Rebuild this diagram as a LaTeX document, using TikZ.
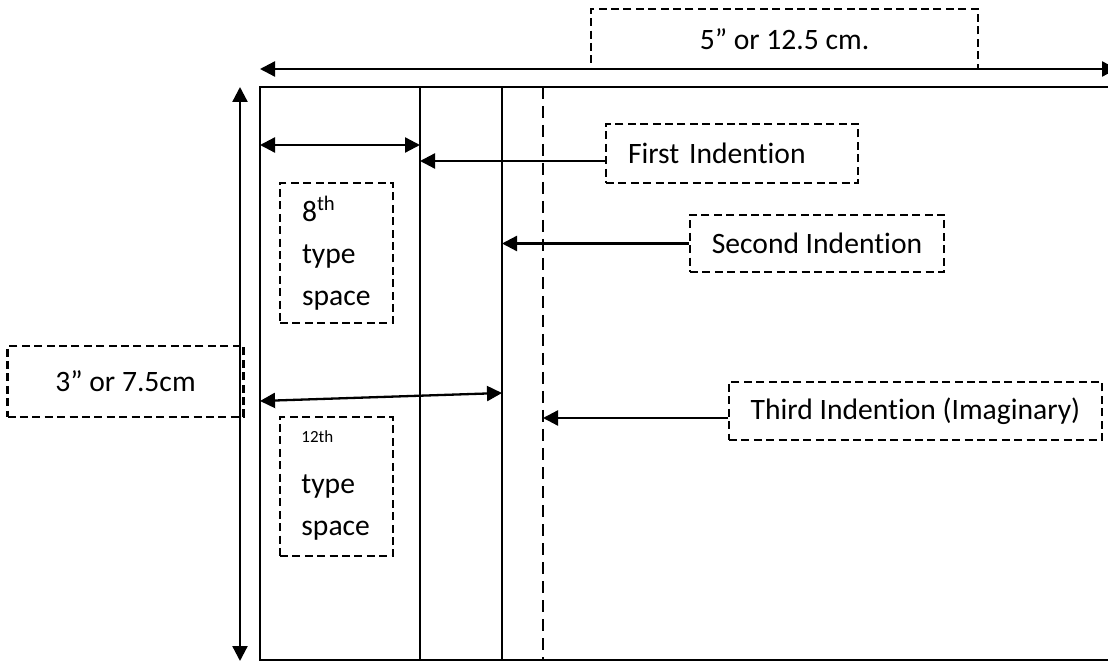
\documentclass[tikz,border=0pt]{standalone}
\usepackage{fontspec}
\setmainfont{Carlito}[Ligatures=NoCommon]
\usetikzlibrary{arrows.meta}
\begin{document}
\begin{tikzpicture}[x=0.5pt,y=-0.5pt,
  dbox/.style={draw, dash pattern=on 4pt off 2.2pt, line width=1.05pt, inner sep=0pt,
    font=\fontsize{14.8}{21}\selectfont},
  frame/.style={line width=0.85pt},
  guide/.style={line width=1pt, dash pattern=on 6pt off 3.5pt},
  tip/.tip={Triangle[length=7.5pt,width=7.5pt]},
  arr/.style={line width=1.15pt, -tip},
  darr/.style={line width=1.15pt, tip-tip}]
\clip (0,0) rectangle (1108,662);
% frame
\coordinate (tl) at (260,87);
\coordinate (bl) at (260,660);
\draw[frame] (1120,87) -- (tl) -- (bl) -- (1120,660);
\coordinate (l1t) at (420,87); \coordinate (l1b) at (420,660);
\coordinate (l2t) at (502,87); \coordinate (l2b) at (502,660);
\coordinate (l3t) at (543,87); \coordinate (l3b) at (543,660);
\draw[frame] (l1t) -- (l1b);
\draw[frame] (l2t) -- (l2b);
\draw[guide] (l3t) -- (l3b);
% top dimension
\node[dbox, minimum width=193.5pt, minimum height=30pt] (wbox) at (784.5,39) {5” or 12.5 cm.};
\coordinate (wa) at (260,69); \coordinate (wb) at (1117,69);
\draw[darr] (wa) -- (wb);
% left dimension
\coordinate (ha) at (240,87); \coordinate (hb) at (240,661);
\draw[darr] (ha) -- (hb);
\node[dbox, minimum width=118pt, minimum height=35.5pt] (hbox) at (125.5,381.5) {3” or 7.5cm};
% indention labels
\node[dbox, minimum width=126pt, minimum height=29.5pt, text width=104pt, align=left] (first) at (732,153.5) {First Indention};
\node[dbox, minimum width=127pt, minimum height=28.5pt] (second) at (817,243.5) {Second Indention};
\node[dbox, minimum width=186.5pt, minimum height=29pt] (third) at (915.5,411) {Third Indention (Imaginary)};
\coordinate (p1) at (420,161);
\coordinate (p3) at (543,418);
\draw[arr] (first.west |- p1) -- (p1);
\draw[arr] (second.west) -- (second.west -| l2t);
\draw[arr] (third.west |- p3) -- (p3);
% inner dimensions
\coordinate (e1a) at (260,145); \coordinate (e1b) at (420,145);
\draw[darr] (e1a) -- (e1b);
\coordinate (e2a) at (260,401); \coordinate (e2b) at (502,393);
\draw[darr] (e2a) -- (e2b);
% type space boxes
\node[dbox, minimum width=56.5pt, minimum height=70pt, text width=34.5pt, align=left] (b8) at (336.5,253) {8\textsuperscript{th}\\type\\space};
\node[dbox, minimum width=56.5pt, minimum height=69.5pt] (b12) at (336.5,486.5) {};
\node[anchor=base west, inner sep=0pt, font=\fontsize{8.5}{10}\selectfont] (t12) at (301,443) {12th};
\node[anchor=base west, inner sep=0pt, font=\fontsize{14.8}{21}\selectfont] (t12b) at (301,493) {type};
\node[anchor=base west, inner sep=0pt, font=\fontsize{14.8}{21}\selectfont] (t12c) at (301,535) {space};
\end{tikzpicture}
\end{document}
